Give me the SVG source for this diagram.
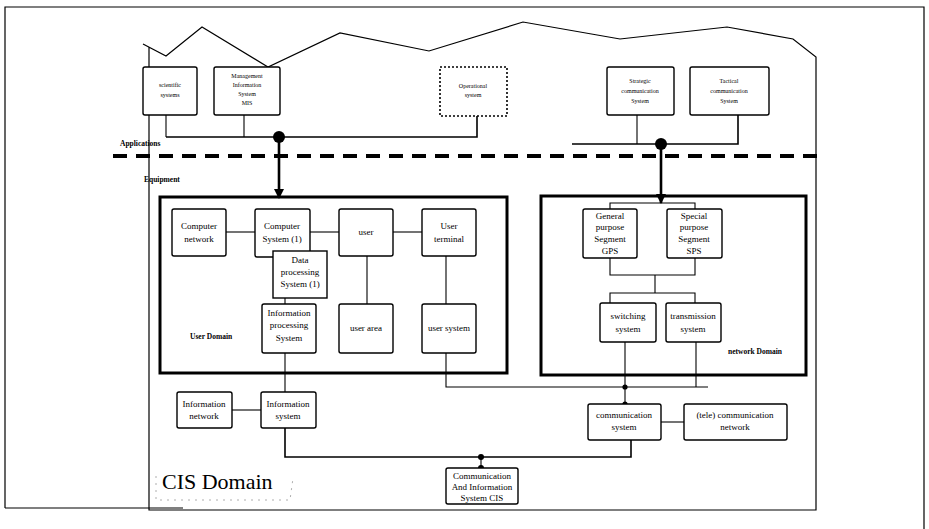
<svg xmlns="http://www.w3.org/2000/svg" width="929" height="529" viewBox="0 0 929 529">
  <defs>
    <marker id="arrow" viewBox="0 0 10 10" refX="9" refY="5" markerWidth="4" markerHeight="4" orient="auto" markerUnits="strokeWidth">
      <path d="M0,0 L10,5 L0,10 z" fill="#000"/>
    </marker>
    <style>
      .box { fill: #fff; stroke: #000; stroke-width: 1.4; }
      .dotted { fill: #fff; stroke: #000; stroke-width: 1.6; stroke-dasharray: 2 2; }
      .domain { fill: none; stroke: #000; stroke-width: 3; }
      .line { fill: none; stroke: #000; stroke-width: 1.1; }
      .bus { fill: none; stroke: #000; stroke-width: 1.6; }
      .thick { fill: none; stroke: #000; stroke-width: 2.6; }
      .frame { fill: none; stroke: #000; stroke-width: 1.2; }
      text { font-family: "Liberation Serif", "Times New Roman", serif; fill: #000; text-anchor: middle; }
      .t9 { font-size: 9px; }
      .t6 { font-size: 6px; }
      .lbl { font-size: 7.5px; font-weight: bold; text-anchor: start; }
      .big { font-size: 22px; text-anchor: start; }
    </style>
  </defs>

  <rect width="929" height="529" fill="#fff"/>

  <!-- page frame -->
  <path class="frame" d="M5,508 V7 H924 V529"/>
  <path class="frame" d="M5,508 H183"/>

  <!-- CIS domain outline with jagged top edge -->
  <path class="frame" d="M143,44 L166,56 L202,27 L268,67 L340,33 L429,51 L523,22 L620,39 L727,27 L793,39 L816,57 V510 H149 V47"/>
  <path d="M156,476 V500 H290 L293,478" fill="none" stroke="#999" stroke-width="0.8" stroke-dasharray="2 5"/>

  <!-- applications / equipment separator -->
  <line x1="113" y1="156" x2="822" y2="156" stroke="#000" stroke-width="4" stroke-dasharray="14 9"/>
  <text class="lbl" x="120" y="146">Applications</text>
  <text class="lbl" x="144" y="182">Equipment</text>

  <!-- domain frames -->
  <rect class="domain" x="160" y="197" width="347" height="176"/>
  <text class="lbl" x="190" y="339">User Domain</text>
  <rect class="domain" x="541" y="196" width="265" height="179"/>
  <text class="lbl" x="728" y="354">network Domain</text>
  <text class="big" x="162" y="489">CIS Domain</text>

  <!-- connectors -->
  <g id="connectors">
    <!-- application bus (left) -->
    <path class="line" d="M166,115 V137"/>
    <path class="line" d="M244,115 V137"/>
    <path class="bus" d="M166,137 H477 V116"/>
    <circle cx="279" cy="137" r="6" fill="#000"/>
    <path class="thick" d="M279,137 V198" marker-end="url(#arrow)"/>

    <!-- application bus (right) -->
    <path class="line" d="M637,115 V144"/>
    <path class="bus" d="M572,144 H738 V115"/>
    <circle cx="661" cy="144" r="6" fill="#000"/>
    <path class="thick" d="M661,144 V203" marker-end="url(#arrow)"/>

    <!-- user domain -->
    <path class="line" d="M226,232 H255"/>
    <path class="line" d="M310,232 H339"/>
    <path class="line" d="M393,232 H422"/>
    <path class="line" d="M367,256 V304"/>
    <path class="line" d="M446,256 V304"/>
    <path class="line" d="M285,298 V304"/>
    <path class="line" d="M285,353 V392"/>
    <path class="line" d="M446,353 V387 H708"/>

    <!-- network domain -->
    <path class="line" d="M610,209 V203 H695 V209"/>
    <path class="line" d="M610,258 V275 H695 V258"/>
    <path class="line" d="M655,275 V293"/>
    <path class="line" d="M610,303 V293 H695 V303"/>
    <path class="line" d="M625,342 V404"/>
    <path class="line" d="M696,342 V387"/>
    <circle cx="625" cy="387" r="2.6" fill="#000"/>
    <circle cx="625" cy="404" r="2.6" fill="#000"/>

    <!-- CIS level -->
    <path class="line" d="M232,410 H261"/>
    <path class="line" d="M661,422 H684"/>
    <path class="bus" d="M285,428 V457 H631 V440"/>
    <path class="line" d="M481,457 V468"/>
    <circle cx="481" cy="457" r="3" fill="#000"/>
    <circle cx="481" cy="468" r="3" fill="#000"/>
  </g>

  <!-- application nodes -->
  <g id="scientific-systems">
    <rect class="box" x="143" y="67" width="54" height="48" rx="2"/>
    <text class="t6" x="170" y="87">scientific</text>
    <text class="t6" x="170" y="97">systems</text>
  </g>
  <g id="mis">
    <rect class="box" x="214" y="67" width="66" height="48" rx="2"/>
    <text class="t6" x="247" y="78">Management</text>
    <text class="t6" x="247" y="87">Information</text>
    <text class="t6" x="247" y="96">System</text>
    <text class="t6" x="247" y="105">MIS</text>
  </g>
  <g id="operational-system">
    <rect class="dotted" x="440" y="67" width="67" height="49"/>
    <text class="t6" x="473" y="88">Operational</text>
    <text class="t6" x="473" y="97">system</text>
  </g>
  <g id="strategic-communication">
    <rect class="box" x="607" y="67" width="67" height="48" rx="2"/>
    <text class="t6" x="640" y="83">Strategic</text>
    <text class="t6" x="640" y="93">communication</text>
    <text class="t6" x="640" y="103">System</text>
  </g>
  <g id="tactical-communication">
    <rect class="box" x="690" y="67" width="79" height="48" rx="2"/>
    <text class="t6" x="729" y="83">Tactical</text>
    <text class="t6" x="729" y="93">communication</text>
    <text class="t6" x="729" y="103">System</text>
  </g>

  <!-- user domain nodes -->
  <g id="computer-network">
    <rect class="box" x="172" y="209" width="54" height="47" rx="2"/>
    <text class="t9" x="199" y="229">Computer</text>
    <text class="t9" x="199" y="242">network</text>
  </g>
  <g id="computer-system">
    <rect class="box" x="255" y="209" width="55" height="48" rx="2"/>
    <text class="t9" x="282" y="229">Computer</text>
    <text class="t9" x="282" y="242">System (1)</text>
  </g>
  <g id="user">
    <rect class="box" x="339" y="209" width="54" height="47" rx="2"/>
    <text class="t9" x="366" y="235">user</text>
  </g>
  <g id="user-terminal">
    <rect class="box" x="422" y="209" width="54" height="47" rx="2"/>
    <text class="t9" x="449" y="229">User</text>
    <text class="t9" x="449" y="242">terminal</text>
  </g>
  <g id="data-processing">
    <rect class="box" x="273" y="251" width="54" height="47"/>
    <text class="t9" x="300" y="263">Data</text>
    <text class="t9" x="300" y="275">processing</text>
    <text class="t9" x="300" y="287">System (1)</text>
  </g>
  <g id="information-processing">
    <rect class="box" x="262" y="304" width="54" height="49" rx="2"/>
    <text class="t9" x="289" y="316">Information</text>
    <text class="t9" x="289" y="328">processing</text>
    <text class="t9" x="289" y="341">System</text>
  </g>
  <g id="user-area">
    <rect class="box" x="339" y="304" width="54" height="49" rx="2"/>
    <text class="t9" x="366" y="331">user area</text>
  </g>
  <g id="user-system">
    <rect class="box" x="422" y="304" width="54" height="49" rx="2"/>
    <text class="t9" x="449" y="331">user system</text>
  </g>

  <!-- network domain nodes -->
  <g id="gps">
    <rect class="box" x="583" y="209" width="54" height="49" rx="2"/>
    <text class="t9" x="610" y="219">General</text>
    <text class="t9" x="610" y="230">purpose</text>
    <text class="t9" x="610" y="242">Segment</text>
    <text class="t9" x="610" y="254">GPS</text>
  </g>
  <g id="sps">
    <rect class="box" x="667" y="209" width="55" height="49" rx="2"/>
    <text class="t9" x="694" y="219">Special</text>
    <text class="t9" x="694" y="230">purpose</text>
    <text class="t9" x="694" y="242">Segment</text>
    <text class="t9" x="694" y="254">SPS</text>
  </g>
  <g id="switching-system">
    <rect class="box" x="600" y="303" width="56" height="39" rx="2"/>
    <text class="t9" x="628" y="319">switching</text>
    <text class="t9" x="628" y="332">system</text>
  </g>
  <g id="transmission-system">
    <rect class="box" x="666" y="303" width="55" height="39" rx="2"/>
    <text class="t9" x="693" y="319">transmission</text>
    <text class="t9" x="693" y="332">system</text>
  </g>

  <!-- CIS level nodes -->
  <g id="information-network">
    <rect class="box" x="177" y="392" width="55" height="36" rx="2"/>
    <text class="t9" x="204" y="407">Information</text>
    <text class="t9" x="204" y="419">network</text>
  </g>
  <g id="information-system">
    <rect class="box" x="261" y="392" width="55" height="36" rx="2"/>
    <text class="t9" x="288" y="407">Information</text>
    <text class="t9" x="288" y="419">system</text>
  </g>
  <g id="communication-system">
    <rect class="box" x="588" y="404" width="73" height="36" rx="2"/>
    <text class="t9" x="624" y="418">communication</text>
    <text class="t9" x="624" y="430">system</text>
  </g>
  <g id="telecommunication-network">
    <rect class="box" x="684" y="404" width="103" height="36" rx="2"/>
    <text class="t9" x="735" y="418">(tele) communication</text>
    <text class="t9" x="735" y="430">network</text>
  </g>
  <g id="cis">
    <rect class="box" x="446" y="468" width="72" height="36" rx="2"/>
    <text class="t9" x="482" y="479">Communication</text>
    <text class="t9" x="482" y="490">And Information</text>
    <text class="t9" x="482" y="501">System CIS</text>
  </g>
</svg>
